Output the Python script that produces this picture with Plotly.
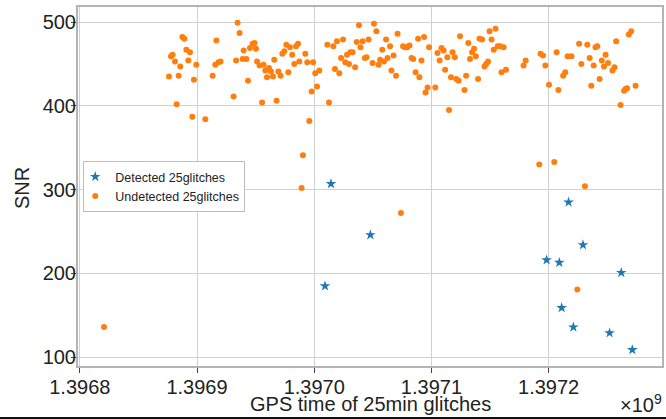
import plotly.graph_objects as go

# GPS times (s) and SNR of glitches the search picked up
detected_gps = [1397009200, 1397014300, 1397047900, 1397198300, 1397209100, 1397211100,
                1397217000, 1397221100, 1397229300, 1397252000, 1397262000, 1397271400]
detected_snr = [185, 307, 246, 216, 213, 159, 285, 136, 234, 129, 201, 109]

# GPS times (s) and SNR of glitches that were missed
undetected_gps = [
    1396820650, 1396876100, 1396877800, 1396879200, 1396881200, 1396882600, 1396884300, 1396885700, 1396887500, 1396889200,
    1396890900, 1396892600, 1396894000, 1396896000, 1396897400, 1396899400, 1396907100, 1396913300, 1396915600, 1396916500,
    1396918400, 1396920100, 1396931200, 1396933300, 1396934600, 1396936300, 1396938900, 1396939800, 1396942100, 1396943500,
    1396945200, 1396947400, 1396949100, 1396950300, 1396951200, 1396953400, 1396955500, 1396956800, 1396958300, 1396959700,
    1396961400, 1396963100, 1396964800, 1396965900, 1396967900, 1396969400, 1396971300, 1396972800, 1396974500, 1396976200,
    1396977900, 1396979300, 1396981300, 1396983000, 1396984500, 1396986200, 1396987300, 1396989200, 1396990400, 1396992400,
    1396994100, 1396995800, 1396997800, 1396999000, 1397000900, 1397002400, 1397004300, 1397011200, 1397012600, 1397016300,
    1397017700, 1397019400, 1397021400, 1397022900, 1397024600, 1397026500, 1397028000, 1397029700, 1397030800, 1397032700,
    1397034900, 1397036300, 1397038200, 1397039500, 1397041300, 1397043200, 1397044600, 1397046400, 1397049800, 1397051000,
    1397053000, 1397054900, 1397056200, 1397058100, 1397059500, 1397061300, 1397062600, 1397064700, 1397065900, 1397067700,
    1397069800, 1397071100, 1397074000, 1397075800, 1397077500, 1397079400, 1397081300, 1397083000, 1397084500, 1397086500,
    1397088600, 1397089700, 1397091500, 1397093700, 1397095000, 1397096700, 1397098000, 1397103300, 1397105200, 1397107000,
    1397108600, 1397110400, 1397111700, 1397113600, 1397115000, 1397116700, 1397118000, 1397120000, 1397121200, 1397123200,
    1397124400, 1397128200, 1397129600, 1397131500, 1397132900, 1397134700, 1397136400, 1397137900, 1397139800, 1397141000,
    1397143200, 1397145300, 1397146700, 1397148300, 1397149600, 1397151300, 1397153200, 1397154700, 1397156600, 1397158800,
    1397159800, 1397161600, 1397163600, 1397178600, 1397180400, 1397192000, 1397193100, 1397195200, 1397197200, 1397200300,
    1397204800, 1397206800, 1397208300, 1397212400, 1397214200, 1397216200, 1397219500, 1397224500, 1397226000, 1397227900,
    1397231000, 1397233000, 1397235000, 1397236400, 1397238400, 1397240000, 1397241500, 1397243500, 1397245400, 1397247200,
    1397248600, 1397250700, 1397254500, 1397256200, 1397257600, 1397261400, 1397264400, 1397265600, 1397266900, 1397268400,
    1397270500, 1397274200,
]
undetected_snr = [
    136, 435, 459, 461, 453, 402, 436, 447, 482, 480,
    467, 454, 464, 387, 431, 449, 384, 436, 449, 478,
    452, 453, 411, 454, 499, 487, 456, 466, 456, 430,
    469, 474, 475, 468, 453, 448, 404, 449, 442, 434,
    445, 441, 435, 455, 406, 441, 436, 462, 465, 473,
    440, 470, 461, 450, 471, 474, 453, 302, 341, 462,
    452, 382, 417, 452, 439, 423, 442, 473, 404, 471,
    444, 477, 439, 457, 479, 452, 461, 450, 464, 464,
    446, 476, 496, 470, 477, 457, 458, 479, 451, 498,
    489, 449, 455, 467, 453, 479, 457, 471, 442, 460,
    436, 486, 272, 471, 470, 470, 472, 457, 456, 440,
    480, 434, 454, 482, 416, 422, 470, 422, 463, 454,
    469, 466, 443, 458, 395, 434, 464, 458, 432, 430,
    483, 419, 436, 475, 456, 464, 468, 459, 432, 480,
    479, 447, 450, 453, 489, 479, 467, 492, 471, 471,
    440, 470, 443, 448, 454, 330, 462, 460, 448, 425,
    333, 464, 419, 436, 440, 459, 459, 181, 474, 450,
    304, 473, 457, 424, 448, 470, 471, 432, 454, 447,
    461, 451, 442, 446, 477, 401, 418, 420, 421, 485,
    489, 424,
]

x_tick_vals = [1396800000, 1396900000, 1397000000, 1397100000, 1397200000]
x_tick_text = ["1.3968", "1.3969", "1.3970", "1.3971", "1.3972"]
y_tick_vals = [100, 200, 300, 400, 500]

FONT = "Liberation Sans, Arial, Helvetica, sans-serif"
INK = "#222"

# plot-area geometry in pixels
W, H = 666, 419
ML, MR, MT, MB = 78, 4, 7, 53
PW, PH = W - ML - MR, H - MT - MB

fig = go.Figure()
fig.add_trace(go.Scatter(
    x=detected_gps, y=detected_snr, mode="markers", name="Detected 25glitches",
    marker=dict(symbol="star", size=8, color="#1f77b4", line=dict(width=0)),
))
fig.add_trace(go.Scatter(
    x=undetected_gps, y=undetected_snr, mode="markers", name="Undetected 25glitches",
    marker=dict(symbol="circle", size=6, color="#ff7f0e", line=dict(width=0)),
))

axis_common = dict(
    showgrid=True, gridcolor="#d0d0d0", gridwidth=1,
    showline=True, linecolor="#b4b4b4", linewidth=2, mirror=True,
    ticks="outside", ticklen=5, tickwidth=1, tickcolor="#444",
    tickfont=dict(family=FONT, size=20, color=INK),
    zeroline=False, automargin=False,
)

fig.update_layout(
    width=W, height=H,
    margin=dict(l=ML, r=MR, t=MT, b=MB),
    paper_bgcolor="white", plot_bgcolor="white",
    font=dict(family=FONT, color=INK),
    xaxis=dict(
        axis_common, range=[1396798460, 1397296730],
        tickvals=x_tick_vals, ticktext=x_tick_text, ticklabelstandoff=-3,
    ),
    yaxis=dict(
        axis_common, range=[89.6, 517.9], tickvals=y_tick_vals,
        ticklabelstandoff=-9,
    ),
    legend=dict(
        x=0.009, y=1 - (161 - MT) / PH, xanchor="left", yanchor="top",
        bgcolor="white", bordercolor="#bdbdbd", borderwidth=1,
        font=dict(family=FONT, size=12.5, color=INK),
        itemwidth=30, tracegroupgap=0, indentation=-9,
    ),
    showlegend=True,
)

# axis titles
fig.add_annotation(
    text="GPS time of 25min glitches", xref="paper", yref="paper",
    x=0.5, y=-(404 - (MT + PH)) / PH, xanchor="center", yanchor="middle",
    showarrow=False, font=dict(family=FONT, size=20, color=INK),
)
fig.add_annotation(
    text="SNR", xref="paper", yref="paper",
    x=-(ML - 22) / PW, y=1 - (188 - MT) / PH, xanchor="center", yanchor="middle",
    textangle=-90, showarrow=False, font=dict(family=FONT, size=20, color=INK),
)

# scale factor for the x tick labels
fig.add_annotation(
    text="×10<sup>9</sup>", xref="paper", yref="paper",
    x=1 + 2 / PW, y=-(H - 1 - (MT + PH)) / PH,
    xanchor="right", yanchor="bottom", showarrow=False,
    font=dict(family=FONT, size=20, color=INK),
)

# dark rule along the bottom edge
fig.add_shape(
    type="line", xref="paper", yref="paper",
    x0=-ML / PW, x1=1 + MR / PW, y0=-(H - 1 - (MT + PH)) / PH, y1=-(H - 1 - (MT + PH)) / PH,
    line=dict(color="#111", width=2),
)

fig.write_html("out.html")
